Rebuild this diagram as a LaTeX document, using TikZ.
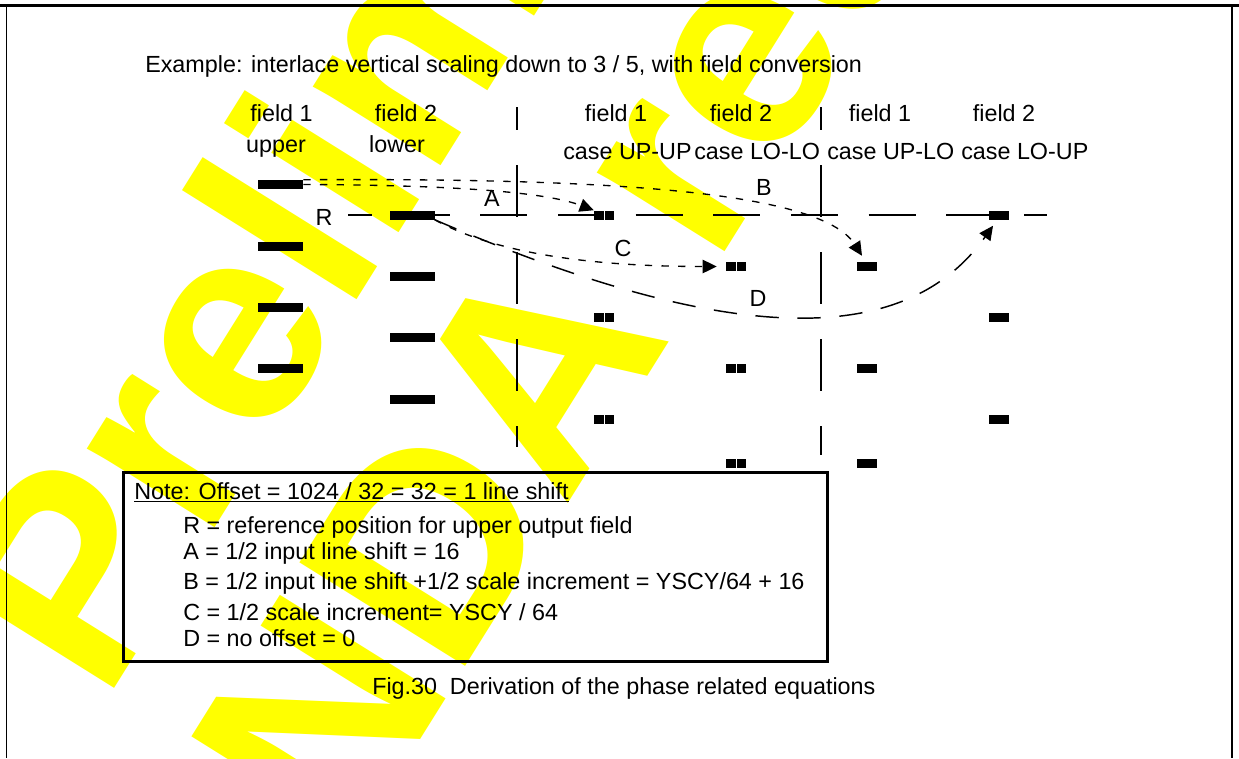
\documentclass[tikz,border=0pt]{standalone}
\usepackage{fontspec}
\setmainfont{Liberation Sans}
\usetikzlibrary{arrows.meta}
\definecolor{wmYellow}{HTML}{FFFF00}
\tikzset{
    lbl/.style={font=\fontsize{17.5}{21}\selectfont, inner sep=0pt},
    hdr/.style={lbl, anchor=base},
    lbar/.style={fill=black, minimum width=33.75pt, minimum height=6.75pt, inner sep=0pt},
    sbar/.style={fill=black, minimum width=15pt, minimum height=6.75pt, inner sep=0pt},
    dbar/.style={sbar, path picture={\draw[white, line width=0.7pt] (path picture bounding box.north) -- (path picture bounding box.south);}},
    refline/.style={line width=1.1pt, dash pattern=on 35.25pt off 23pt, dash phase=17.25pt},
    sepline/.style={line width=1.1pt, dash pattern=on 39pt off 26.25pt, dash phase=21.75pt},
    dotline/.style={line width=1pt, dash pattern=on 5.5pt off 7pt, -{Triangle[length=10.5pt, width=10pt]}},
    longdash/.style={line width=1.1pt, dash pattern=on 17.5pt off 14pt, -{Triangle[length=10.5pt, width=10pt]}},
    notebox/.style={draw, line width=2.25pt, minimum width=528pt, minimum height=141.75pt, inner sep=0pt},
    wmark/.style={text=wmYellow, font=\fontsize{213}{213}\selectfont\bfseries, rotate=58, inner sep=0pt, anchor=base west}
}
\begin{document}
\begin{tikzpicture}[x=0.75pt, y=-0.75pt]
    \fill[white] (0,0) rectangle (1239,758);
    \useasboundingbox (0,0) rectangle (1239,758);
    % watermark
    \begin{scope}
        \clip (0,0) rectangle (1239,758);
        \node[wmark] (wm1) at (104,705) {Preliminary};
        \node[wmark] (wm2) at (347,857) {NDA required};
    \end{scope}
    % frame
    \draw[line width=2.25pt] (0,5.5) -- (1239,5.5);
    \draw[line width=1.1pt] (6.5,5.5) -- (6.5,758);
    \draw[line width=1.1pt] (1232,5.5) -- (1232,758);
    \node[lbl, anchor=base west] (title) at (145,72) {Example: interlace vertical scaling down to 3 / 5, with field conversion};
    % headers
    \node[hdr] (h1) at (281.5,121) {field 1};
    \node[hdr] (h2) at (406,121) {field 2};
    \node[hdr] (h3) at (616,121) {field 1};
    \node[hdr] (h4) at (741,121) {field 2};
    \node[hdr] (h5) at (880,121) {field 1};
    \node[hdr] (h6) at (1004,121) {field 2};
    \node[hdr] (up) at (276,152) {upper};
    \node[hdr] (lo) at (397,152) {lower};
    \node[lbl, anchor=base west] (cuu) at (563,159) {case UP-UP};
    \node[lbl, anchor=base west] (cll) at (694,159) {case LO-LO};
    \node[lbl, anchor=base west] (cul) at (827,159) {case UP-LO};
    \node[lbl, anchor=base west] (clu) at (961,159) {case LO-UP};
    % reference line and column separators
    \coordinate (refL) at (348,215);
    \coordinate (refR) at (1047,215);
    \coordinate (s1t) at (517,107);
    \coordinate (s1b) at (517,447);
    \coordinate (s2t) at (821,107);
    \coordinate (s2b) at (821,455);
    \draw[refline] (refL) -- (refR);
    \draw[sepline] (s1t) -- (s1b);
    \draw[sepline] (s2t) -- (s2b);
    % input lines
    \node[lbar] (f1u1) at (280.5,184.5) {};
    \node[lbar] (f1u2) at (280.5,246) {};
    \node[lbar] (f1u3) at (280.5,307) {};
    \node[lbar] (f1u4) at (280.5,368.5) {};
    \node[lbar] (f2l1) at (412,215) {};
    \node[lbar] (f2l2) at (412,276.5) {};
    \node[lbar] (f2l3) at (412,337.5) {};
    \node[lbar] (f2l4) at (412,399) {};
    % output lines
    \node[dbar] (uu1) at (604,215) {};
    \node[dbar] (uu2) at (604,317.5) {};
    \node[dbar] (uu3) at (604,419.5) {};
    \node[dbar] (ll1) at (736,266.5) {};
    \node[dbar] (ll2) at (736,368.5) {};
    \node[dbar] (ll3) at (736,463.5) {};
    \node[sbar] (ul1) at (867,266.5) {};
    \node[sbar] (ul2) at (867,368.5) {};
    \node[sbar] (ul3) at (867,463.5) {};
    \node[sbar] (lu1) at (999,215) {};
    \node[sbar] (lu2) at (999,317.5) {};
    \node[sbar] (lu3) at (999,419.5) {};
    % offsets
    \draw[dotline] (f1u1.east) .. controls (430,185) and (540,190) .. (uu1.north west);
    \draw[dotline] (f1u1.north east) .. controls (600,178) and (820,190) .. ([shift={(-5,-6)}]ul1.north);
    \draw[dotline] (f2l1.south east) .. controls (480,245) and (560,266.5) .. ([xshift=-6.75pt]ll1.west);
    \draw[longdash] (f2l1.south east) .. controls (732,348) and (906,348) .. ([shift={(-6,6)}]lu1.south);
    \node[lbl] (labR) at (324,217) {R};
    \node[lbl] (labA) at (492,198) {A};
    \node[lbl] (labB) at (764,187) {B};
    \node[lbl] (labC) at (623,248) {C};
    \node[lbl] (labD) at (758,298) {D};
    % note
    \node[notebox] (note) at (475.5,567) {};
    \node[lbl, anchor=base west] (n0) at (134,499) {\underline{Note: Offset = 1024 / 32 = 32 = 1 line shift}};
    \node[lbl, anchor=base west] (n1) at (183,533) {R = reference position for upper output field};
    \node[lbl, anchor=base west] (n2) at (183,559) {A = 1/2 input line shift = 16};
    \node[lbl, anchor=base west] (n3) at (183,589) {B = 1/2 input line shift +1/2 scale increment = YSCY/64 + 16};
    \node[lbl, anchor=base west] (n4) at (183,620) {C = 1/2 scale increment= YSCY / 64};
    \node[lbl, anchor=base west] (n5) at (183,646) {D = no offset = 0};
    \node[lbl, anchor=base west] (cap) at (372,694) {Fig.30\hspace{0.55em}Derivation of the phase related equations};
\end{tikzpicture}
\end{document}
